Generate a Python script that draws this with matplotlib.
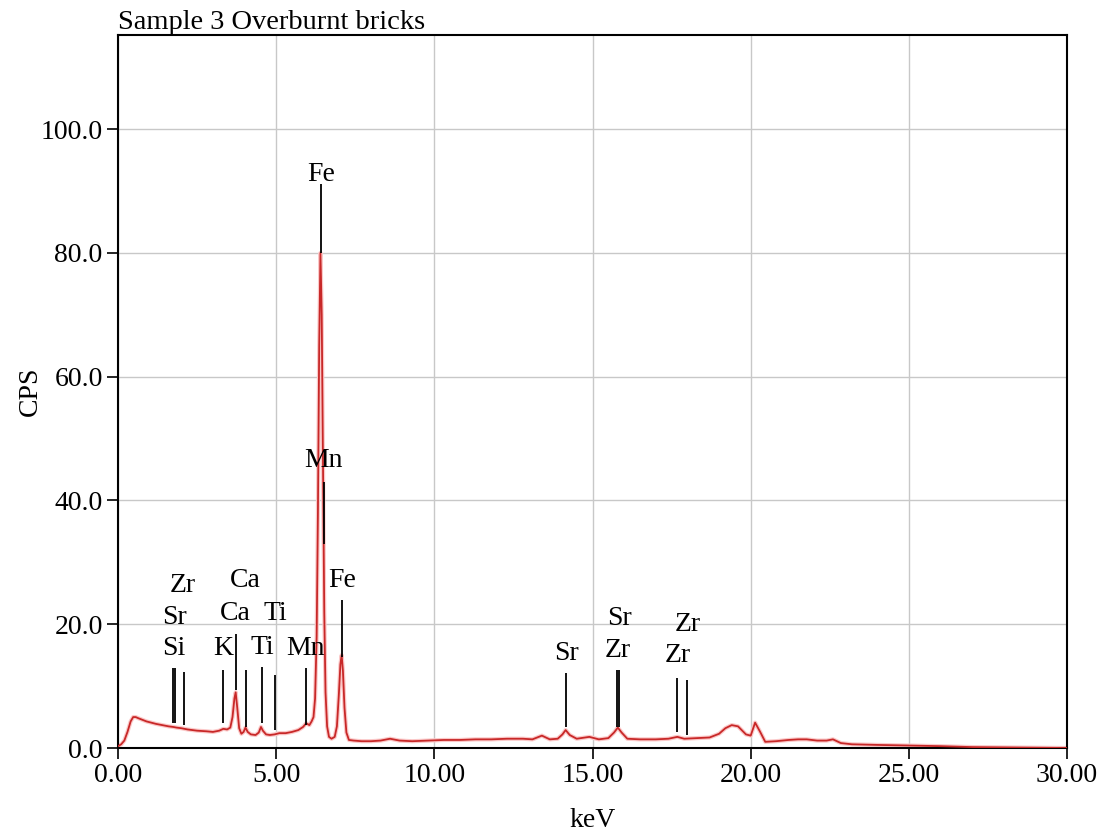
import numpy as np
import matplotlib
matplotlib.use('Agg')
import matplotlib.pyplot as plt

# spectrum (keV, CPS)
kev = [0.00, 0.10, 0.20, 0.30, 0.40, 0.48, 0.56, 0.65, 0.75, 0.90, 1.05, 1.20, 1.40,
       1.60, 1.75, 1.85, 2.00, 2.20, 2.50, 2.80, 3.00, 3.20, 3.33, 3.45, 3.55, 3.62,
       3.68, 3.72, 3.77, 3.83, 3.90, 3.97, 4.03, 4.10, 4.20, 4.35, 4.45, 4.52, 4.58,
       4.68, 4.80, 4.95, 5.10, 5.30, 5.50, 5.70, 5.85, 5.95, 6.05, 6.12, 6.18, 6.23,
       6.28, 6.32, 6.36, 6.40, 6.44, 6.48, 6.52, 6.56, 6.61, 6.67, 6.75, 6.85, 6.92,
       6.98, 7.03, 7.07, 7.11, 7.16, 7.22, 7.30, 7.45, 7.70, 8.00, 8.30, 8.60, 8.90,
       9.30, 9.80, 10.30, 10.80, 11.30, 11.80, 12.30, 12.80, 13.10, 13.40, 13.65, 13.90,
       14.05, 14.15, 14.28, 14.50, 14.90, 15.20, 15.50, 15.68, 15.80, 15.92, 16.10, 16.50,
       17.00, 17.40, 17.68, 17.90, 18.30, 18.70, 19.00, 19.20, 19.40, 19.60, 19.85, 20.00,
       20.14, 20.30, 20.46, 20.80, 21.20, 21.50, 21.77, 22.10, 22.40, 22.60, 22.85, 23.20,
       24.00, 25.00, 26.00, 27.00, 28.00, 29.00, 30.00]
cps = [0.3, 0.6, 1.2, 2.6, 4.3, 5.0, 5.0, 4.8, 4.6, 4.3, 4.1, 3.9, 3.7,
       3.5, 3.4, 3.3, 3.2, 3.0, 2.8, 2.7, 2.6, 2.8, 3.1, 3.0, 3.3, 5.0,
       8.0, 9.0, 6.5, 3.2, 2.3, 2.6, 3.3, 2.6, 2.2, 2.1, 2.5, 3.4, 2.8,
       2.2, 2.1, 2.2, 2.4, 2.4, 2.6, 2.9, 3.4, 4.0, 3.7, 4.3, 5.0, 8.0,
       18.0, 38.0, 65.0, 80.0, 70.0, 45.0, 22.0, 9.0, 3.5, 1.8, 1.5, 1.8, 3.5,
       8.5, 13.5, 15.0, 12.5, 6.5, 2.5, 1.3, 1.2, 1.1, 1.1, 1.2, 1.5, 1.2,
       1.1, 1.2, 1.3, 1.3, 1.4, 1.4, 1.5, 1.5, 1.4, 2.0, 1.4, 1.5,
       2.2, 2.9, 2.1, 1.5, 1.8, 1.4, 1.6, 2.5, 3.3, 2.5, 1.5, 1.4,
       1.4, 1.5, 1.8, 1.5, 1.6, 1.7, 2.3, 3.2, 3.7, 3.5, 2.2, 2.0,
       4.1, 2.6, 1.0, 1.1, 1.3, 1.4, 1.4, 1.2, 1.2, 1.4, 0.8, 0.6,
       0.5, 0.4, 0.3, 0.15, 0.1, 0.05, 0.0]

# peak marker lines (keV, bottom, top)
line_kev = [1.74, 1.81, 2.08, 3.33, 3.72, 4.04, 4.54, 4.96, 5.94, 6.42, 6.50, 7.07,
            14.15, 15.78, 15.83, 17.68, 18.00]
line_bot = [4.0, 4.0, 3.7, 4.0, 9.4, 3.4, 4.0, 2.9, 3.7, 80.0, 33.0, 14.7,
            3.4, 3.4, 3.4, 2.6, 2.1]
line_top = [12.9, 12.9, 12.3, 12.6, 18.5, 12.6, 13.1, 11.8, 12.9, 91.2, 43.0, 23.9,
            12.1, 12.6, 12.6, 11.3, 11.0]

# element labels (keV, CPS, text)
lab_kev = [1.75, 1.78, 2.05, 3.33, 3.70, 4.04, 4.57, 4.99, 5.91, 6.42, 6.49, 7.09,
           14.18, 15.80, 15.85, 17.70, 18.00]
lab_cps = [16.1, 21.1, 26.3, 16.1, 21.8, 27.0, 16.3, 21.8, 16.1, 92.6, 46.5, 27.0,
           15.3, 15.8, 21.0, 15.0, 19.9]
lab_txt = ['Si', 'Sr', 'Zr', 'K', 'Ca', 'Ca', 'Ti', 'Ti', 'Mn', 'Fe', 'Mn', 'Fe',
           'Sr', 'Zr', 'Sr', 'Zr', 'Zr']

plt.rcParams['font.family'] = ['Liberation Serif', 'DejaVu Serif']

fig = plt.figure(figsize=(11.1, 8.34), dpi=100)
ax = fig.add_axes([0.1063, 0.1031, 0.8550, 0.8549])

ax.plot(kev, cps, color='#fbc8c8', lw=3.0, zorder=2)
ax.plot(kev, cps, color='#c82828', lw=1.3, zorder=3)

ax.vlines(line_kev, line_bot, line_top, color='black', lw=1.3, zorder=4)
for x, y, t in zip(lab_kev, lab_cps, lab_txt):
    ax.text(x, y, t, ha='center', va='center', fontsize=20, zorder=5)

ax.set_xlim(0, 30)
ax.set_ylim(0, 115.2)
ax.set_xticks(np.arange(0, 31, 5))
ax.set_yticks(np.arange(0, 101, 20))
ax.set_xticklabels(['%.2f' % v for v in np.arange(0, 31, 5)])
ax.set_yticklabels(['%.1f' % v for v in np.arange(0, 101, 20)])
ax.tick_params(direction='out', length=8, width=1.2, labelsize=20, pad=3)
ax.grid(True, color='#c8c8c8', lw=1.0)
ax.set_axisbelow(True)
for s in ax.spines.values():
    s.set_linewidth(1.5)

ax.set_xlabel('keV', fontsize=20, labelpad=14)
ax.set_ylabel('CPS', fontsize=20, labelpad=-2)
ax.set_title('Sample 3 Overburnt bricks', loc='left', fontsize=20.5, pad=1)

fig.savefig('out.png', dpi=100)
